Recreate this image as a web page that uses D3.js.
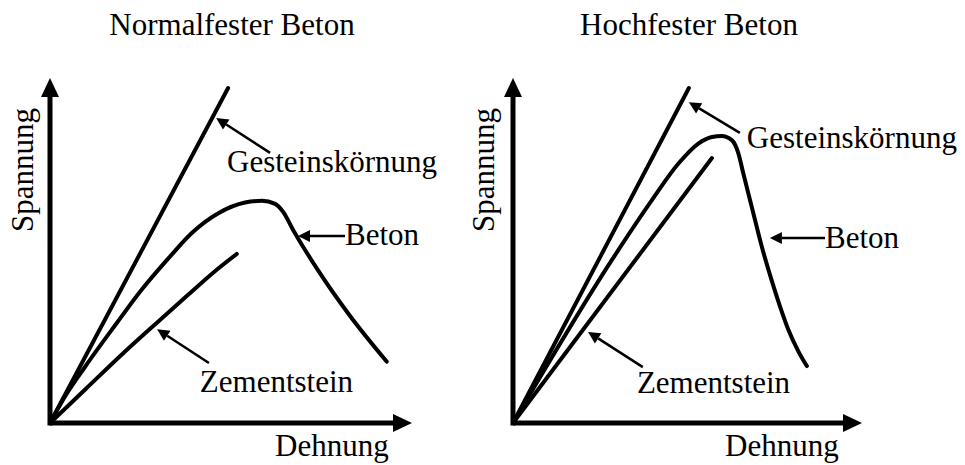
<!DOCTYPE html>
<html>
<head>
<meta charset="utf-8">
<script src="https://cdn.jsdelivr.net/npm/d3@7"></script>
<style>
  body { margin: 0; background: #fff; }
  text { font-family: "Liberation Serif", "Times New Roman", serif; fill: #000; }
</style>
</head>
<body>
<div id="chart"></div>
<script>
// Panel titles and axis labels
const panelTitles = ["Normalfester Beton", "Hochfester Beton"];
const xAxisLabel = "Dehnung";
const yAxisLabel = "Spannung";
const curveNames = ["Gesteinskörnung", "Beton", "Zementstein"];

// Curves, [Dehnung, Spannung] in relative units (0..100)
const normalGestein = [[0, 0], [49.2, 97.1]];
const normalBeton = [[0, 0], [4.1, 7.6], [9.7, 16.3], [18.4, 28.9], [25.3, 38.6], [32.7, 47.7],
  [39.1, 55.0], [46.5, 60.8], [53.9, 63.9], [58.5, 64.4], [62.2, 63.5], [64.4, 61.2],
  [67.2, 55.9], [73.7, 44.8], [82.9, 31.0], [93.0, 17.8]];
const normalZement = [[0, 0], [10, 10], [20, 20], [30, 29.5], [38, 37], [45, 43.5], [51.6, 49.0]];

const highGestein = [[0, 0], [50.4, 97.1]];
const highBeton = [[0, 0], [28.3, 47.2], [39.8, 64.6], [47.4, 75.2], [53.1, 81.0], [57.0, 82.9],
  [59.8, 83.2], [62.7, 82.0], [64.6, 78.1], [66.0, 72.3], [68.4, 62.7], [71.3, 51.1], [74.1, 41.4],
  [76.5, 33.8], [78.9, 27.0], [81.8, 20.7], [84.2, 16.5]];
const highZement = [[0, 0], [57.0, 76.8]];

// Annotation arrows: tip, tail, label anchor (same relative units)
const normalNotes = [
  {text: curveNames[0], tip: [45.9, 88.4], tail: [60.8, 78.3], label: [48.9, 72.8]},
  {text: curveNames[1], tip: [68.5, 54.2], tail: [81.5, 54.2], label: [81.5, 51.6]},
  {text: curveNames[2], tip: [29.6, 27.2], tail: [43.9, 17.4], label: [41.4, 9.0]}
];
const highNotes = [
  {text: curveNames[0], tip: [50.4, 93.0], tail: [65.0, 84.1], label: [67.0, 79.7]},
  {text: curveNames[1], tip: [73.6, 53.6], tail: [89.4, 53.6], label: [89.4, 50.7]},
  {text: curveNames[2], tip: [21.5, 26.4], tail: [37.2, 16.2], label: [35.5, 8.7]}
];

const panels = [
  {title: panelTitles[0], curves: [normalGestein, normalBeton, normalZement], notes: normalNotes, x0: 50, x1: 412, titleX: 232, ylabX: 33, xlabX: 275},
  {title: panelTitles[1], curves: [highGestein, highBeton, highZement], notes: highNotes, x0: 513, x1: 862, titleX: 689, ylabX: 494, xlabX: 725}
];

const width = 965, height = 465;
const fontSize = 31;

const svg = d3.select("#chart").append("svg")
    .attr("width", width)
    .attr("height", height);

panels.forEach(p => {
    let x = d3.scaleLinear().domain([0, 100]).range([p.x0, p.x1]);
    let y = d3.scaleLinear().domain([0, 100]).range([423, 78]);

    let g = svg.append("g");

    // Axes with arrow heads
    let headLen = 19, headHalf = 9;
    g.append("line")
        .attr("x1", x(0)).attr("y1", y(0))
        .attr("x2", x(100) - headLen).attr("y2", y(0))
        .attr("stroke", "#000").attr("stroke-width", 5);
    g.append("path")
        .attr("d", `M${x(100)},${y(0)} L${x(100) - headLen},${y(0) - headHalf} L${x(100) - headLen},${y(0) + headHalf} Z`)
        .attr("fill", "#000");
    g.append("line")
        .attr("x1", x(0)).attr("y1", y(0) + 2.5)
        .attr("x2", x(0)).attr("y2", y(100) + headLen)
        .attr("stroke", "#000").attr("stroke-width", 5);
    g.append("path")
        .attr("d", `M${x(0)},${y(100)} L${x(0) - headHalf},${y(100) + headLen} L${x(0) + headHalf},${y(100) + headLen} Z`)
        .attr("fill", "#000");

    // Curves
    let line = d3.line()
        .x(d => x(d[0]))
        .y(d => y(d[1]))
        .curve(d3.curveMonotoneX);

    g.selectAll(".curve")
        .data(p.curves)
        .enter()
        .append("path")
        .attr("class", "curve")
        .attr("d", line)
        .attr("fill", "none")
        .attr("stroke", "#000")
        .attr("stroke-width", 4)
        .attr("stroke-linecap", "round")
        .attr("stroke-linejoin", "round");

    // Annotation arrows
    p.notes.forEach(n => {
        let tx = x(n.tip[0]), ty = y(n.tip[1]);
        let sx = x(n.tail[0]), sy = y(n.tail[1]);
        let ang = Math.atan2(ty - sy, tx - sx);
        let hl = 12, hw = 6;
        let bx = tx - hl * Math.cos(ang), by = ty - hl * Math.sin(ang);
        g.append("line")
            .attr("x1", sx).attr("y1", sy)
            .attr("x2", bx).attr("y2", by)
            .attr("stroke", "#000").attr("stroke-width", 2.5);
        g.append("path")
            .attr("d", `M${tx},${ty} L${bx + hw * Math.sin(ang)},${by - hw * Math.cos(ang)} L${bx - hw * Math.sin(ang)},${by + hw * Math.cos(ang)} Z`)
            .attr("fill", "#000");
        g.append("text")
            .attr("x", x(n.label[0]))
            .attr("y", y(n.label[1]))
            .attr("font-size", fontSize)
            .text(n.text);
    });

    // Titles and axis labels
    g.append("text")
        .attr("x", p.titleX).attr("y", 35)
        .attr("text-anchor", "middle")
        .attr("font-size", fontSize)
        .text(p.title);

    g.append("text")
        .attr("x", p.xlabX).attr("y", 456)
        .attr("font-size", fontSize)
        .text(xAxisLabel);

    g.append("text")
        .attr("transform", `translate(${p.ylabX},170) rotate(-90)`)
        .attr("text-anchor", "middle")
        .attr("font-size", fontSize)
        .text(yAxisLabel);
});
</script>
</body>
</html>
